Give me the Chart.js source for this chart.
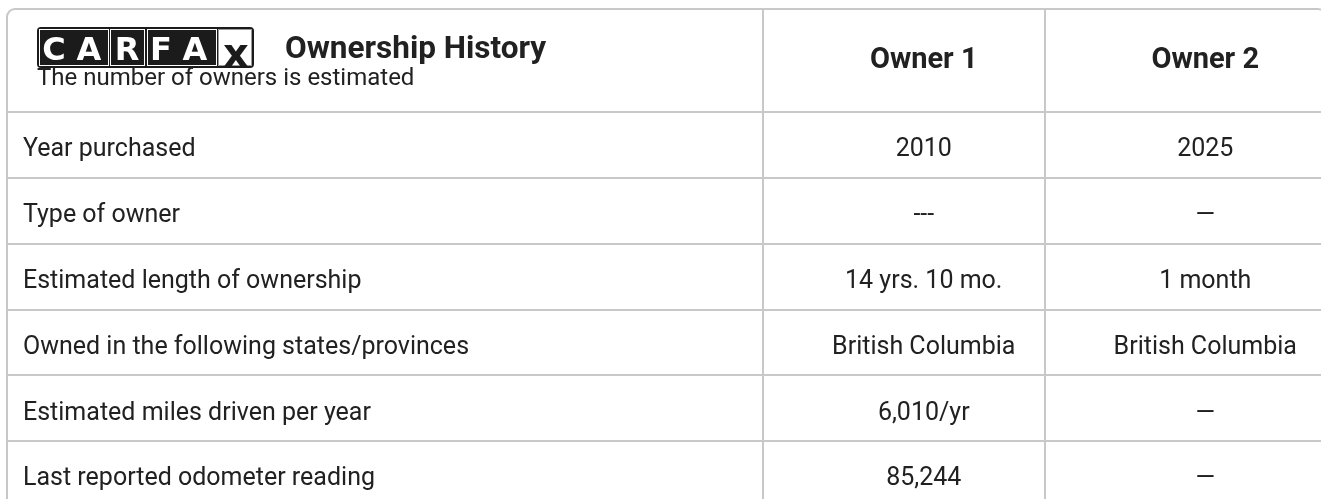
<!DOCTYPE html>
<html lang="en">
  <head>
    <meta charset="UTF-8" />
    <meta name="viewport" content="width=device-width, initial-scale=1.0" />
    <title>Ownership History</title>
    <script src="https://cdn.jsdelivr.net/npm/chart.js"></script>
    <style>
      html,
      body {
        margin: 0;
        padding: 0;
        background: #fff;
        overflow: hidden;
      }
      .frame {
        position: relative;
        width: 1321px;
        height: 499px;
        overflow: hidden;
      }
      canvas {
        display: block;
      }
    </style>
  </head>
  <body>
    <div class="frame">
      <canvas id="chart-history" width="1330" height="510"></canvas>
    </div>
    <script>
      // Data tabel riwayat kepemilikan
      const rowLabels = [
        "Year purchased",
        "Type of owner",
        "Estimated length of ownership",
        "Owned in the following states/provinces",
        "Estimated miles driven per year",
        "Last reported odometer reading",
      ];
      const owners = ["Owner 1", "Owner 2"];
      const owner1Values = ["2010", "---", "14 yrs. 10 mo.", "British Columbia", "6,010/yr", "85,244"];
      const owner2Values = ["2025", "\u2014", "1 month", "British Columbia", "\u2014", "\u2014"];

      const gridColor = "#c8c8c8";
      const textColor = "#212121";

      Chart.defaults.font.family = "Roboto";

      const tablePlugin = {
        id: "tablePlugin",
        beforeDraw(chart) {
          const { ctx, chartArea, scales } = chart;
          const left = scales.y.right - scales.y.options.grid.tickLength;
          const top = scales.x.bottom - scales.x.options.grid.tickLength;
          const right = chartArea.right;
          const bottom = chartArea.bottom;
          const r = 8;
          ctx.save();
          ctx.fillStyle = "#fff";
          ctx.fillRect(0, 0, chart.width, chart.height);
          ctx.strokeStyle = gridColor;
          ctx.lineWidth = 2;
          ctx.beginPath();
          ctx.moveTo(left, bottom);
          ctx.arcTo(left, top, right, top, r);
          ctx.arcTo(right, top, right, bottom, r);
          ctx.lineTo(right, bottom);
          ctx.stroke();
          ctx.restore();
        },
        afterDraw(chart) {
          const { ctx, scales } = chart;
          const left = scales.y.right - scales.y.options.grid.tickLength;
          const top = scales.x.bottom - scales.x.options.grid.tickLength;
          ctx.save();

          // logo CARFAX
          const lx = left + 30;
          const ly = top + 18;
          ctx.fillStyle = "#1b1b1b";
          ctx.beginPath();
          ctx.roundRect(lx, ly, 217, 41, 4);
          ctx.fill();
          const cells = [
            [2, 70],
            [73, 35],
            [110, 70],
            [181, 34],
          ];
          ctx.strokeStyle = "#fff";
          ctx.lineWidth = 1;
          cells.forEach(([cx, cw], i) => {
            if (i === 3) {
              ctx.fillStyle = "#fff";
              ctx.fillRect(lx + cx, ly + 2, cw, 37);
              ctx.strokeStyle = "#9a9a9a";
            }
            ctx.strokeRect(lx + cx + 0.5, ly + 2.5, cw - 1, 36);
          });
          ctx.fillStyle = "#fff";
          ctx.font = 'bold 32px "DejaVu Sans"';
          ctx.textAlign = "center";
          ctx.textBaseline = "alphabetic";
          [
            ["C", 17],
            ["A", 52],
            ["R", 90],
            ["F", 124],
            ["A", 158],
          ].forEach(([ch, cx]) => ctx.fillText(ch, lx + cx, ly + 33));
          ctx.fillStyle = "#1b1b1b";
          ctx.font = 'bold 40px "DejaVu Sans"';
          ctx.fillText("x", lx + 199, ly + 40);

          // judul
          ctx.textAlign = "left";
          ctx.fillStyle = textColor;
          ctx.font = "bold 31.5px Roboto";
          ctx.fillText("Ownership History", left + 278, top + 49);
          ctx.font = "24px Roboto";
          ctx.fillText("The number of owners is estimated", left + 30, top + 76);

          // nilai tiap sel
          const dx = scales.x.options.ticks.labelOffset;
          const dy = scales.y.options.ticks.labelOffset;
          ctx.font = "25px Roboto";
          ctx.textAlign = "center";
          ctx.textBaseline = "middle";
          chart.data.datasets.forEach((ds, i) => {
            chart.getDatasetMeta(i).data.forEach((el, j) => {
              ctx.fillText(ds.texts[j], el.x + dx, el.y + dy);
            });
          });
          ctx.restore();
        },
      };

      const ctxHistory = document.getElementById("chart-history").getContext("2d");
      new Chart(ctxHistory, {
        type: "scatter",
        data: {
          datasets: [
            {
              label: owners[0],
              data: rowLabels.map((r) => ({ x: owners[0], y: r })),
              texts: owner1Values,
              pointRadius: 0,
            },
            {
              label: owners[1],
              data: rowLabels.map((r) => ({ x: owners[1], y: r })),
              texts: owner2Values,
              pointRadius: 0,
            },
          ],
        },
        options: {
          responsive: false,
          animation: false,
          events: [],
          layout: { padding: { left: 23, top: 9, right: 4, bottom: 3 } },
          plugins: {
            legend: { display: false },
            tooltip: { enabled: false },
          },
          scales: {
            x: {
              type: "category",
              labels: owners,
              position: "top",
              offset: true,
              grid: { offset: true, color: gridColor, lineWidth: 2, tickLength: 103 },
              border: { color: gridColor, width: 2 },
              ticks: {
                font: { size: 29, weight: "bold" },
                color: textColor,
                padding: -69,
                labelOffset: 20,
                maxRotation: 0,
                autoSkip: false,
              },
              afterFit: (scale) => {
                scale.height = 103;
                scale.paddingLeft = 0;
                scale.paddingRight = 0;
              },
            },
            y: {
              type: "category",
              labels: rowLabels,
              offset: true,
              grid: { offset: true, color: gridColor, lineWidth: 2, tickLength: 756 },
              border: { color: gridColor, width: 2 },
              ticks: {
                crossAlign: "far",
                font: { size: 25 },
                color: textColor,
                labelOffset: 5,
                autoSkip: false,
              },
              afterFit: (scale) => {
                scale.width = 740;
                scale.paddingTop = 0;
                scale.paddingBottom = 0;
              },
            },
          },
        },
        plugins: [tablePlugin],
      });
    </script>
  </body>
</html>
